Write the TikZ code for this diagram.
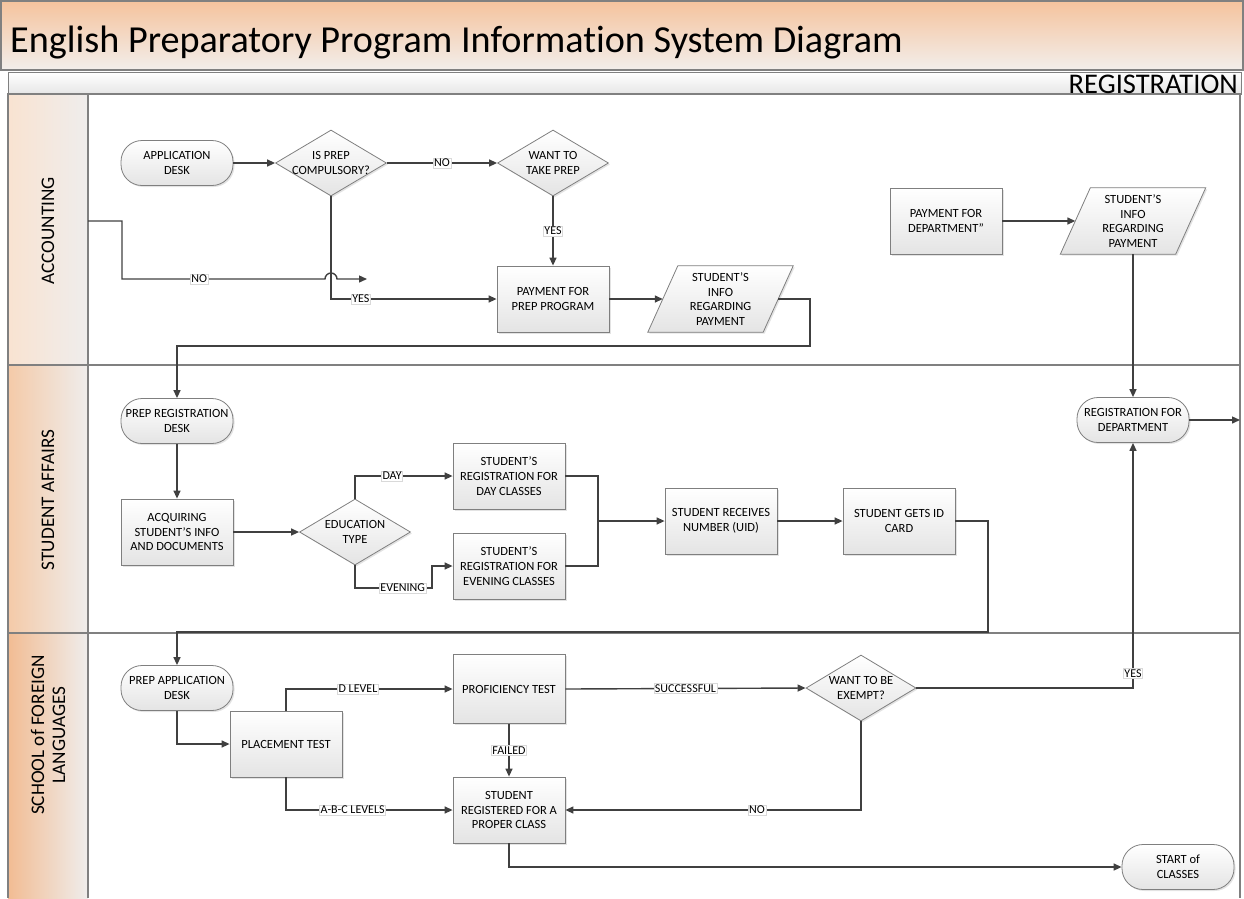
\documentclass[tikz,border=0pt]{standalone}
\usepackage{fontspec}
\setmainfont{Carlito}[Ligatures=NoCommon]
\usetikzlibrary{arrows.meta,shapes.geometric,shadows,calc}
\definecolor{boxline}{HTML}{7F7F7F}
\definecolor{boxbot}{HTML}{E4E4E4}
\definecolor{conn}{HTML}{404040}
\definecolor{gridc}{HTML}{808080}
\definecolor{titletop}{HTML}{F5C39D}
\definecolor{titlebot}{HTML}{F2EEEB}
\definecolor{regbot}{HTML}{E6E6E6}
\definecolor{accL}{HTML}{F9E3D1}
\definecolor{saL}{HTML}{F4CAA8}
\definecolor{sfL}{HTML}{F2BC93}
\definecolor{laneR}{HTML}{EFEDEC}
\newcommand{\boxfont}{\fontsize{12.5}{14.8}\selectfont}
\newcommand{\lblfont}{\fontsize{12}{12}\selectfont}
\newcommand{\lanefont}{\fontsize{19.2}{21}\selectfont}
\pgfdeclarelayer{bg}
\pgfdeclarelayer{mid}
\pgfsetlayers{bg,mid,main}
\tikzset{
  shad/.style={drop shadow={opacity=0.22, shadow xshift=1.5pt, shadow yshift=-1.5pt}},
  box/.style={draw=boxline, line width=0.8pt, top color=white, bottom color=boxbot,
    minimum width=112pt, minimum height=66pt, align=center, inner sep=1pt, font=\boxfont, shad},
  term/.style={box, rounded corners=21pt, minimum height=45pt},
  dia/.style={diamond, draw=boxline, line width=0.8pt, top color=white, bottom color=boxbot,
    minimum width=111pt, minimum height=66pt, inner sep=0pt, shad},
  txt/.style={align=center, font=\boxfont, inner sep=1pt},
  parashape/.style={draw=boxline, line width=0.8pt, top color=white, bottom color=boxbot, shad},
  ln/.style={draw=conn, line width=1.4pt},
  arr/.style={ln, -{Triangle[length=8pt,width=7pt]}},
  lbl/.style={fill=white, draw=gray!30, line width=0.4pt, inner sep=1pt, font=\lblfont, text=black},
  gridline/.style={draw=gridc, line width=1.1pt},
  lanetxt/.style={rotate=90, font=\lanefont, align=center}
}
\begin{document}
\begin{tikzpicture}[x=1pt,y=-1pt]
\useasboundingbox (0,0) rectangle (1244,898);
\begin{pgfonlayer}{bg}
  \shadedraw[top color=titletop, bottom color=titlebot, draw=gridc, line width=1.1pt] (1,1) rectangle (1243,70);
  \shadedraw[top color=white, bottom color=regbot, draw=gridc, line width=1pt] (8,72) rectangle (1241,94);
  \shade[left color=accL, right color=laneR] (8,94) rectangle (88,365);
  \shade[left color=saL, right color=laneR] (8,365) rectangle (88,633);
  \shade[left color=sfL, right color=laneR] (8,633) rectangle (88,898);
  \draw[gridline] (8,898) -- (8,94) -- (1240,94) -- (1240,898);
  \draw[gridline] (8,365) -- (1240,365);
  \draw[gridline] (8,633) -- (1240,633);
  \draw[gridline] (88,94) -- (88,898);
\end{pgfonlayer}

% header texts
\node[anchor=base west, font=\fontsize{38.2}{42}\selectfont, inner sep=0] (title) at (10,52) {English Preparatory Program Information System Diagram};
\node[anchor=east, font=\fontsize{28.5}{29}\selectfont, inner sep=0] (reg) at (1238,84) {REGISTRATION};

% lane labels
\node[lanetxt] (lacc) at (48,231) {ACCOUNTING};
\node[lanetxt] (lsa) at (48,500) {STUDENT AFFAIRS};
\node[lanetxt] (lsf) at (48,735) {SCHOOL of FOREIGN\\LANGUAGES};

% ACCOUNTING lane
\node[term] (ad) at (177,163) {APPLICATION\\DESK};
\node[dia, label={[txt]center:IS PREP\\COMPULSORY?}] (ipc) at (331,163) {};
\node[dia, label={[txt]center:WANT TO\\TAKE PREP}] (wtp) at (553,163) {};
\node[box] (pfp) at (553,299) {PAYMENT FOR\\PREP PROGRAM};
\node[txt, minimum width=115pt, minimum height=66pt] (sip1) at (720.5,299) {STUDENT’S\\INFO\\REGARDING\\PAYMENT};
\node[box] (pfd) at (946,221) {PAYMENT FOR\\DEPARTMENT”};
\node[txt, minimum width=115pt, minimum height=66pt] (sip2) at (1133,221) {STUDENT’S\\INFO\\REGARDING\\PAYMENT};

% STUDENT AFFAIRS lane
\node[term] (rfd) at (1133,420) {REGISTRATION FOR\\DEPARTMENT};
\node[term] (prd) at (177,421) {PREP REGISTRATION\\DESK};
\node[box] (aq) at (177,532) {ACQUIRING\\STUDENT’S INFO\\AND DOCUMENTS};
\node[dia, label={[txt]center:EDUCATION\\TYPE}] (et) at (355,532) {};
\node[box] (dayc) at (509,476) {STUDENT’S\\REGISTRATION FOR\\DAY CLASSES};
\node[box] (evec) at (509,566) {STUDENT’S\\REGISTRATION FOR\\EVENING CLASSES};
\node[box] (uid) at (721,521) {STUDENT RECEIVES\\NUMBER (UID)};
\node[box] (idc) at (899,521) {STUDENT GETS ID\\CARD};

% SCHOOL lane
\node[term] (pad) at (177,688) {PREP APPLICATION\\DESK};
\node[box] (pt) at (286,744) {PLACEMENT TEST};
\node[box, minimum height=69pt] (prof) at (509,689) {PROFICIENCY TEST};
\node[box] (srp) at (509,810) {STUDENT\\REGISTERED FOR A\\PROPER CLASS};
\node[dia, minimum width=110pt, label={[txt]center:WANT TO BE\\EXEMPT?}] (wbe) at (861,688) {};
\node[term] (soc) at (1178,867) {START of\\CLASSES};

% parallelogram outlines
\begin{pgfonlayer}{mid}
  \path[parashape] ([xshift=15pt]sip1.north west) -- ([xshift=15pt]sip1.north east) -- ([xshift=-15pt]sip1.south east) -- ([xshift=-15pt]sip1.south west) -- cycle;
  \path[parashape] ([xshift=15pt]sip2.north west) -- ([xshift=15pt]sip2.north east) -- ([xshift=-15pt]sip2.south east) -- ([xshift=-15pt]sip2.south west) -- cycle;
\end{pgfonlayer}

% free ends
\coordinate (noStart) at (88,221);
\coordinate (noEnd) at (367,279);
\coordinate (rEdge) at (1240,420);
\coordinate (merge) at (598,521);

% connectors
\draw[arr] (ad.east) -- (ipc.west);
\draw[arr] (ipc.east) -- node[lbl]{NO} (wtp.west);
\draw[arr] (wtp.south) -- node[lbl]{YES} (pfp.north);
\draw[arr] (ipc.south) |- node[lbl, pos=0.59]{YES} (pfp.west);
\draw[arr] (noStart) -- (122,221) -- (122,279) -- node[lbl, pos=0.38]{NO} (325,279) arc[start angle=180, end angle=0, radius=6pt] -- (noEnd);
\draw[arr] (pfp.east) -- (sip1.west);
\draw[arr] (sip1.east) -- (810,299) -- (810,346) -| (prd.north);
\draw[arr] (pfd.east) -- (sip2.west);
\draw[arr] (sip2.south) -- (rfd.north);
\draw[arr] (rfd.east) -- (rEdge);
\draw[arr] (prd.south) -- (aq.north);
\draw[arr] (aq.east) -- (et.west);
\draw[arr] (et.north) |- node[lbl, pos=0.69]{DAY} (dayc.west);
\draw[arr] (et.south) |- node[lbl, pos=0.81]{EVENING} (432,588) |- (evec.west);
\draw[ln] (dayc.east) -| (merge) |- (evec.east);
\draw[arr] (merge) -- (uid.west);
\draw[arr] (uid.east) -- (idc.west);
\draw[arr] (idc.east) -- (988,521) -- (988,632) -| (pad.north);
\draw[arr] (pad.south) |- (pt.west);
\draw[arr] (pt.north) |- node[lbl, pos=0.716]{D LEVEL} (prof.west);
\draw[arr] (pt.south) |- node[lbl, pos=0.70]{A-B-C LEVELS} (srp.west);
\draw[arr] (prof.south) -- node[lbl]{FAILED} (srp.north);
\draw[arr] (prof.east) -- node[lbl]{SUCCESSFUL} (wbe.west);
\draw[arr] (wbe.east) -| node[lbl, pos=0.53]{YES} (rfd.south);
\draw[arr] (wbe.south) |- node[lbl, pos=0.676]{NO} (srp.east);
\draw[arr] (srp.south) |- (soc.west);
\end{tikzpicture}
\end{document}
